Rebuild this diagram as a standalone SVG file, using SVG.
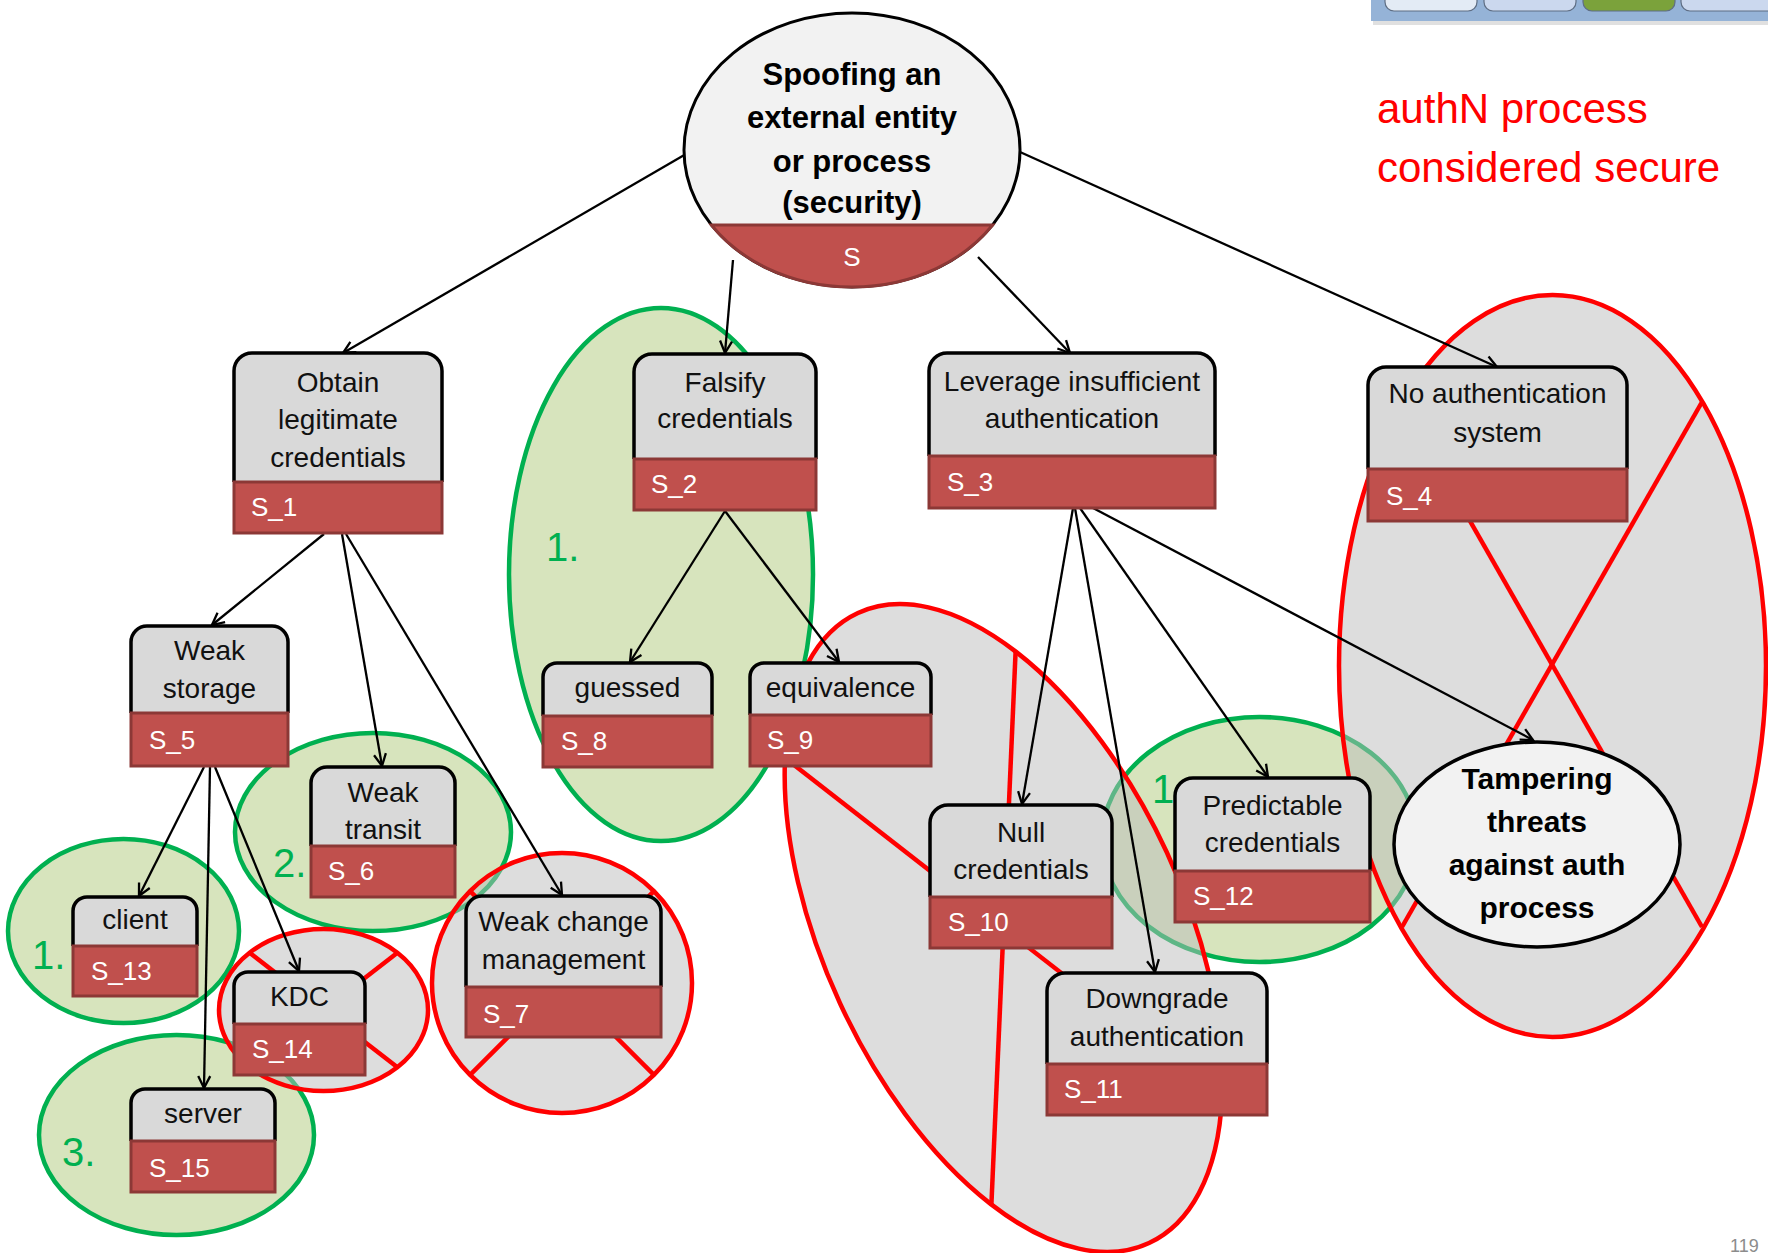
<svg xmlns="http://www.w3.org/2000/svg" width="1768" height="1253" viewBox="0 0 1768 1253">
<defs>
<style>
.gbox{fill:#d9d9d9;stroke:#000;stroke-width:3.5;stroke-linejoin:round}
.rband{fill:#c0504d;stroke:#8c3836;stroke-width:3}
.t{font-family:"Liberation Sans",Arial,sans-serif;font-size:28px;fill:#111;text-anchor:middle}
.lbl{font-family:"Liberation Sans",Arial,sans-serif;font-size:26px;fill:#fff}
.bt{font-family:"Liberation Sans",Arial,sans-serif;font-weight:bold;fill:#000;text-anchor:middle}
.gell{fill:#d7e4bd;stroke:#00b050;stroke-width:4.5}
.rell{fill:#bbbbbb;fill-opacity:0.5;stroke:#ff0000;stroke-width:4.5}
.rx{stroke:#ff0000;stroke-width:4.5;fill:none}
.gnum{font-family:"Liberation Sans",Arial,sans-serif;font-size:40px;fill:#00b050}
.conn line{stroke:#000;stroke-width:2.3;marker-end:url(#arr)}
.btn{stroke:#5f6e84;stroke-width:1.2}
</style>
<marker id="arr" markerUnits="userSpaceOnUse" markerWidth="16" markerHeight="16" refX="14" refY="8" orient="auto" viewBox="0 0 16 16">
<path d="M2,2 L14,8 L2,14" fill="none" stroke="#000" stroke-width="2.3"/>
</marker>
</defs>
<rect width="1768" height="1253" fill="#fff"/>

<g id="toolbar">
<rect x="1373" y="20" width="400" height="5" fill="#000" opacity="0.12"/>
<rect x="1371" y="-5" width="400" height="26" fill="#95b3d7"/>
<path class="btn" d="M1385,-5 V2 A9,9 0 0 0 1394,11 H1468 A9,9 0 0 0 1477,2 V-5 Z" fill="#e3ebf5"/>
<path class="btn" d="M1484,-5 V2 A9,9 0 0 0 1493,11 H1567 A9,9 0 0 0 1576,2 V-5 Z" fill="#cbd8ee"/>
<path class="btn" d="M1583,-5 V2 A9,9 0 0 0 1592,11 H1666 A9,9 0 0 0 1675,2 V-5 Z" fill="#7ba23b"/>
<path class="btn" d="M1681,-5 V2 A9,9 0 0 0 1690,11 H1775 V-5 Z" fill="#cbd8ee"/>
</g>

<g id="note">
<text x="1377" y="123" font-family="Liberation Sans, Arial, sans-serif" font-size="42" fill="#ff0000">authN process</text>
<text x="1377" y="182" font-family="Liberation Sans, Arial, sans-serif" font-size="42" fill="#ff0000">considered secure</text>
</g>
<text id="page-number" x="1730" y="1252" font-family="Liberation Sans, Arial, sans-serif" font-size="18" fill="#8c8c8c">119</text>

<g id="green-groups">
<ellipse class="gell" cx="661" cy="574.5" rx="152" ry="266.5"/>
<ellipse class="gell" cx="123.5" cy="931" rx="115.5" ry="92"/>
<ellipse class="gell" cx="176.5" cy="1135" rx="137.5" ry="100"/>
<ellipse class="gell" cx="373" cy="832" rx="138" ry="99"/>
<ellipse class="gell" cx="1259.5" cy="839.5" rx="157.5" ry="122.5"/>
<text class="gnum" x="546" y="561">1.</text>
<text class="gnum" x="32" y="969">1.</text>
<text class="gnum" x="62" y="1166">3.</text>
<text class="gnum" x="273" y="877">2.</text>
<text class="gnum" x="1152" y="803">1.</text>
</g>

<g id="red-groups">
<g id="cross-S14">
<ellipse class="rell" cx="323.5" cy="1010" rx="104.5" ry="81"/>
<line class="rx" x1="249.6" y1="952.7" x2="397.4" y2="1067.3"/>
<line class="rx" x1="397.4" y1="952.7" x2="249.6" y2="1067.3"/>
</g>
<g id="cross-S7">
<ellipse class="rell" cx="562" cy="983" rx="130" ry="130"/>
<line class="rx" x1="470.1" y1="891.1" x2="653.9" y2="1074.9"/>
<line class="rx" x1="653.9" y1="891.1" x2="470.1" y2="1074.9"/>
</g>
<g id="cross-mid" transform="translate(1003.5 928) rotate(65.2)">
<ellipse class="rell" cx="0" cy="0" rx="347" ry="180"/>
<line class="rx" x1="-246" y1="-127" x2="246" y2="127"/>
<line class="rx" x1="-246" y1="127" x2="246" y2="-127"/>
</g>
<g id="cross-right">
<ellipse class="rell" cx="1552.5" cy="666" rx="213.5" ry="371"/>
<line class="rx" x1="1402" y1="402" x2="1702" y2="927"/>
<line class="rx" x1="1702" y1="402" x2="1402" y2="927"/>
</g>
</g>

<g id="connectors" class="conn">
<line x1="686" y1="154" x2="343" y2="353"/>
<line x1="733" y1="260" x2="725" y2="353"/>
<line x1="978" y1="257" x2="1070" y2="353"/>
<line x1="1020" y1="152" x2="1497" y2="367"/>
<line x1="324" y1="534" x2="212" y2="625"/>
<line x1="342" y1="534" x2="382" y2="766"/>
<line x1="346" y1="534" x2="562" y2="895"/>
<line x1="725" y1="511" x2="630" y2="662"/>
<line x1="725" y1="511" x2="839" y2="662"/>
<line x1="1073" y1="508" x2="1022" y2="804"/>
<line x1="1075" y1="508" x2="1155" y2="972"/>
<line x1="1080" y1="508" x2="1268" y2="777"/>
<line x1="1093" y1="508" x2="1533" y2="740"/>
<line x1="204" y1="767" x2="139" y2="896"/>
<line x1="210" y1="767" x2="204" y2="1088"/>
<line x1="215" y1="767" x2="299" y2="971"/>
</g>

<g id="root">
<ellipse cx="852" cy="150" rx="168" ry="137" fill="#f2f2f2" stroke="#000" stroke-width="3"/>
<path d="M711.4,225 L992.6,225 A168,137 0 0 1 711.4,225 Z" class="rband"/>
<text class="bt" font-size="31" x="852" y="85">Spoofing an</text>
<text class="bt" font-size="31" x="852" y="128">external entity</text>
<text class="bt" font-size="31" x="852" y="172">or process</text>
<text class="bt" font-size="31" x="852" y="213">(security)</text>
<text class="lbl" x="852" y="266" text-anchor="middle">S</text>
</g>

<g id="tampering">
<ellipse cx="1537" cy="844.5" rx="143" ry="102.5" fill="#f2f2f2" stroke="#000" stroke-width="3.5"/>
<text class="bt" font-size="30" x="1537" y="789">Tampering</text>
<text class="bt" font-size="30" x="1537" y="832">threats</text>
<text class="bt" font-size="30" x="1537" y="875">against auth</text>
<text class="bt" font-size="30" x="1537" y="918">process</text>
</g>

<g id="S_1">
<path class="gbox" d="M234,482 V371 A18,18 0 0 1 252,353 H424 A18,18 0 0 1 442,371 V482"/>
<rect class="rband" x="234" y="482" width="208" height="51"/>
<text class="t" x="338" y="392">Obtain</text>
<text class="t" x="338" y="429">legitimate</text>
<text class="t" x="338" y="467">credentials</text>
<text class="lbl" x="251" y="516">S_1</text>
</g>
<g id="S_2">
<path class="gbox" d="M634,459 V372 A18,18 0 0 1 652,354 H798 A18,18 0 0 1 816,372 V459"/>
<rect class="rband" x="634" y="459" width="182" height="51"/>
<text class="t" x="725" y="392">Falsify</text>
<text class="t" x="725" y="428">credentials</text>
<text class="lbl" x="651" y="493">S_2</text>
</g>
<g id="S_3">
<path class="gbox" d="M929,456 V371 A18,18 0 0 1 947,353 H1197 A18,18 0 0 1 1215,371 V456"/>
<rect class="rband" x="929" y="456" width="286" height="52"/>
<text class="t" x="1072" y="391">Leverage insufficient</text>
<text class="t" x="1072" y="428">authentication</text>
<text class="lbl" x="947" y="491">S_3</text>
</g>
<g id="S_4">
<path class="gbox" d="M1368,469 V385 A18,18 0 0 1 1386,367 H1609 A18,18 0 0 1 1627,385 V469"/>
<rect class="rband" x="1368" y="469" width="259" height="52"/>
<text class="t" x="1497.5" y="403">No authentication</text>
<text class="t" x="1497.5" y="442">system</text>
<text class="lbl" x="1386" y="505">S_4</text>
</g>
<g id="S_5">
<path class="gbox" d="M131,713 V642 A16,16 0 0 1 147,626 H272 A16,16 0 0 1 288,642 V713"/>
<rect class="rband" x="131" y="713" width="157" height="53"/>
<text class="t" x="209.5" y="660">Weak</text>
<text class="t" x="209.5" y="698">storage</text>
<text class="lbl" x="149" y="749">S_5</text>
</g>
<g id="S_6">
<path class="gbox" d="M311,846 V783 A16,16 0 0 1 327,767 H439 A16,16 0 0 1 455,783 V846"/>
<rect class="rband" x="311" y="846" width="144" height="51"/>
<text class="t" x="383" y="802">Weak</text>
<text class="t" x="383" y="839">transit</text>
<text class="lbl" x="328" y="880">S_6</text>
</g>
<g id="S_7">
<path class="gbox" d="M466,987 V912 A16,16 0 0 1 482,896 H645 A16,16 0 0 1 661,912 V987"/>
<rect class="rband" x="466" y="987" width="195" height="50"/>
<text class="t" x="563.5" y="931">Weak change</text>
<text class="t" x="563.5" y="969">management</text>
<text class="lbl" x="483" y="1023">S_7</text>
</g>
<g id="S_8">
<path class="gbox" d="M543,716 V677 A14,14 0 0 1 557,663 H698 A14,14 0 0 1 712,677 V716"/>
<rect class="rband" x="543" y="716" width="169" height="51"/>
<text class="t" x="627.5" y="697">guessed</text>
<text class="lbl" x="561" y="750">S_8</text>
</g>
<g id="S_9">
<path class="gbox" d="M750,715 V677 A14,14 0 0 1 764,663 H917 A14,14 0 0 1 931,677 V715"/>
<rect class="rband" x="750" y="715" width="181" height="51"/>
<text class="t" x="840.5" y="697">equivalence</text>
<text class="lbl" x="767" y="749">S_9</text>
</g>
<g id="S_10">
<path class="gbox" d="M930,897 V823 A18,18 0 0 1 948,805 H1094 A18,18 0 0 1 1112,823 V897"/>
<rect class="rband" x="930" y="897" width="182" height="51"/>
<text class="t" x="1021" y="842">Null</text>
<text class="t" x="1021" y="879">credentials</text>
<text class="lbl" x="948" y="931">S_10</text>
</g>
<g id="S_11">
<path class="gbox" d="M1047,1064 V991 A18,18 0 0 1 1065,973 H1249 A18,18 0 0 1 1267,991 V1064"/>
<rect class="rband" x="1047" y="1064" width="220" height="51"/>
<text class="t" x="1157" y="1008">Downgrade</text>
<text class="t" x="1157" y="1046">authentication</text>
<text class="lbl" x="1064" y="1098">S_11</text>
</g>
<g id="S_12">
<path class="gbox" d="M1175,871 V796 A18,18 0 0 1 1193,778 H1352 A18,18 0 0 1 1370,796 V871"/>
<rect class="rband" x="1175" y="871" width="195" height="51"/>
<text class="t" x="1272.5" y="815">Predictable</text>
<text class="t" x="1272.5" y="852">credentials</text>
<text class="lbl" x="1193" y="905">S_12</text>
</g>
<g id="S_13">
<path class="gbox" d="M73,946 V911 A14,14 0 0 1 87,897 H183 A14,14 0 0 1 197,911 V946"/>
<rect class="rband" x="73" y="946" width="124" height="50"/>
<text class="t" x="135" y="929">client</text>
<text class="lbl" x="91" y="980">S_13</text>
</g>
<g id="S_14">
<path class="gbox" d="M234,1024 V986 A14,14 0 0 1 248,972 H351 A14,14 0 0 1 365,986 V1024"/>
<rect class="rband" x="234" y="1024" width="131" height="51"/>
<text class="t" x="299.5" y="1006">KDC</text>
<text class="lbl" x="252" y="1058">S_14</text>
</g>
<g id="S_15">
<path class="gbox" d="M131,1141 V1103 A14,14 0 0 1 145,1089 H261 A14,14 0 0 1 275,1103 V1141"/>
<rect class="rband" x="131" y="1141" width="144" height="51"/>
<text class="t" x="203" y="1123">server</text>
<text class="lbl" x="149" y="1177">S_15</text>
</g>
</svg>
